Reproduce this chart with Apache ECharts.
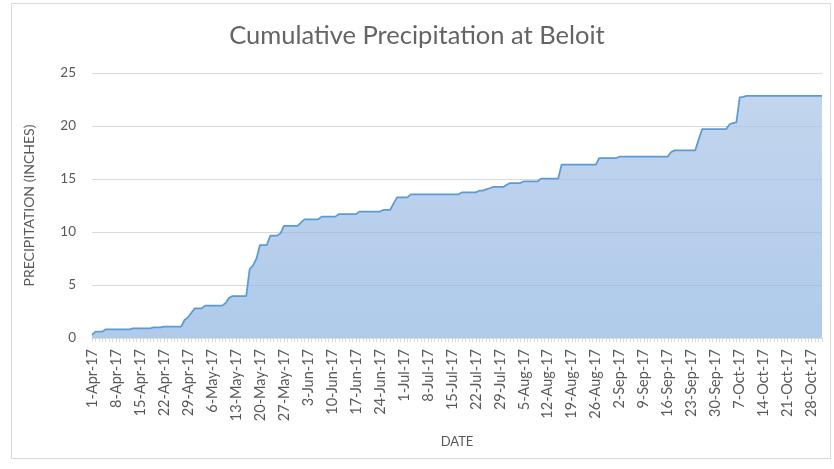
<!DOCTYPE html>
<html>
<head>
<meta charset="utf-8">
<script src="https://cdn.jsdelivr.net/npm/echarts@6/dist/echarts.min.js"></script>
<style>
  html, body { margin:0; padding:0; background:#fff; }
  #plot { width:834px; height:469px; }
</style>
</head>
<body>
<div id="plot"></div>
<script>
// Months covered (1-Apr-17 .. 31-Oct-17), one category per day
const months = ['Apr', 'May', 'Jun', 'Jul', 'Aug', 'Sep', 'Oct'];
const monthDays = [30, 31, 30, 31, 31, 30, 31];
const yTicks = [0, 5, 10, 15, 20, 25];

// Cumulative precipitation (inches), one value per day
const precip = [
  0.30,0.60,0.60,0.60,0.82,0.82,0.82,
  0.82,0.82,0.82,0.82,0.82,0.90,0.90,
  0.90,0.90,0.90,0.90,1.00,1.00,1.00,
  1.07,1.07,1.07,1.07,1.07,1.07,1.70,
  1.95,2.38,2.80,2.80,2.80,3.05,3.05,
  3.05,3.05,3.05,3.05,3.30,3.80,3.95,
  3.95,3.95,3.95,3.95,6.50,6.85,7.50,
  8.77,8.77,8.77,9.65,9.65,9.65,9.87,
  10.57,10.57,10.57,10.57,10.57,10.90,11.20,
  11.20,11.20,11.20,11.20,11.45,11.45,11.45,
  11.45,11.45,11.68,11.68,11.68,11.68,11.68,
  11.68,11.92,11.92,11.92,11.92,11.92,11.92,
  11.92,12.08,12.08,12.08,12.70,13.27,13.27,
  13.27,13.27,13.55,13.55,13.55,13.55,13.55,
  13.55,13.55,13.55,13.55,13.55,13.55,13.55,
  13.55,13.55,13.55,13.74,13.74,13.74,13.74,
  13.74,13.90,13.90,14.02,14.13,14.25,14.25,
  14.25,14.25,14.45,14.62,14.62,14.62,14.62,
  14.78,14.78,14.78,14.78,14.78,15.03,15.03,
  15.03,15.03,15.03,15.03,16.35,16.35,16.35,
  16.35,16.35,16.35,16.35,16.35,16.35,16.35,
  16.35,16.98,16.98,16.98,16.98,16.98,16.98,
  17.12,17.12,17.12,17.12,17.12,17.12,17.12,
  17.12,17.12,17.12,17.12,17.12,17.12,17.12,
  17.12,17.55,17.70,17.70,17.70,17.70,17.70,
  17.70,17.70,18.70,19.70,19.70,19.70,19.70,
  19.70,19.70,19.70,19.70,20.15,20.28,20.35,
  22.70,22.75,22.85,22.85,22.85,22.85,22.85,
  22.85,22.85,22.85,22.85,22.85,22.85,22.85,
  22.85,22.85,22.85,22.85,22.85,22.85,22.85,
  22.85,22.85,22.85,22.85
];

const dates = [];
months.forEach((m, i) => {
  for (let d = 1; d <= monthDays[i]; d++) dates.push(d + '-' + m + '-17');
});

const el = document.getElementById('plot');
const chart = echarts.init(el, null, { renderer:'canvas' });

const textCol = '#595959';
const gridCol = '#d9d9d9';
const font = 'Lato, "Open Sans", sans-serif';

chart.setOption({
  animation: false,
  backgroundColor: '#ffffff',
  textStyle: { fontFamily: font },
  title: {
    text: 'Cumulative Precipitation at Beloit',
    left: 'center', top: 18,
    textStyle: { color:'#646464', fontSize:25.5, fontWeight:'normal', fontFamily:font }
  },
  graphic: [{
    type:'rect', silent:true, z:-1,
    shape:{ x:11.5, y:3.5, width:819, height:455 },
    style:{ fill:'none', stroke:'#d9d9d9', lineWidth:1 }
  }],
  grid: { left:92, right:12, top:73, bottom:131 },
  xAxis: {
    type:'category', data:dates, boundaryGap:false,
    name:'DATE', nameLocation:'middle', nameGap:97,
    nameTextStyle:{ color:textCol, fontSize:13, fontFamily:font },
    axisLine:{ lineStyle:{ color:gridCol } },
    axisTick:{ interval:0, length:4, lineStyle:{ color:gridCol } },
    axisLabel:{ interval:6, rotate:90, color:textCol, fontSize:14.5, margin:11, fontFamily:font },
    splitLine:{ show:false }
  },
  yAxis: {
    type:'value', min:yTicks[0], max:yTicks[yTicks.length-1], interval:yTicks[1]-yTicks[0],
    name:'PRECIPITATION (INCHES)', nameLocation:'middle', nameGap:56,
    nameTextStyle:{ color:textCol, fontSize:14, fontFamily:font },
    axisLine:{ show:false }, axisTick:{ show:false },
    axisLabel:{ color:textCol, fontSize:13.5, margin:16, fontFamily:font },
    splitLine:{ lineStyle:{ color:gridCol, width:1 } }
  },
  series: [{
    type:'line', name:'Cumulative precipitation', data:precip,
    showSymbol:false, smooth:false,
    lineStyle:{ width:1.75, color:'#5b9bd5' },
    areaStyle:{
      color: new echarts.graphic.LinearGradient(0, 0, 0, 1, [
        { offset:0, color:'#a9c3e7' },
        { offset:1, color:'#8db4e2' }
      ])
    }
  }]
});

window.addEventListener('resize', () => chart.resize(), { passive:true });
</script>
</body>
</html>
